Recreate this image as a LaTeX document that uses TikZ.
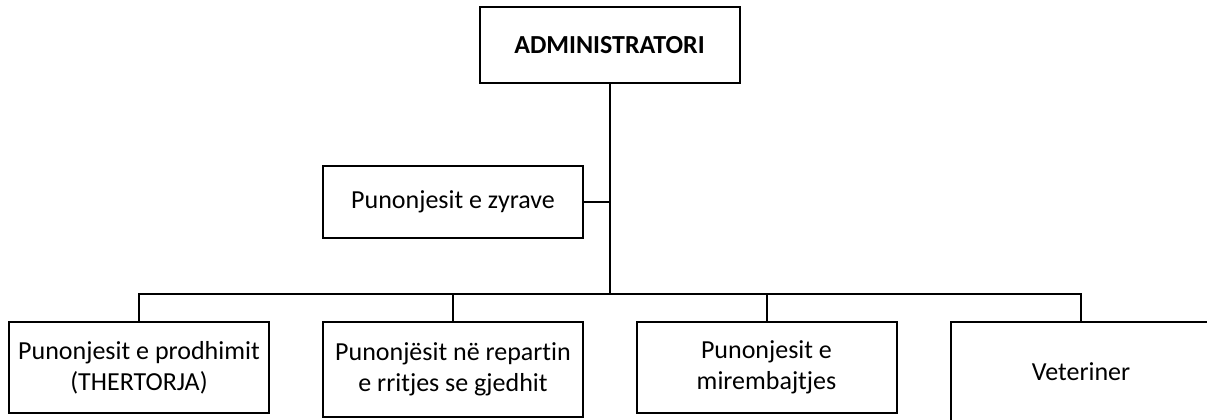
\documentclass[tikz,border=0pt]{standalone}
\usepackage{fontspec}
\setmainfont{Carlito}[Ligatures=NoCommon]
\tikzset{
    box/.style={draw, line width=1.5pt, minimum width=195pt, inner xsep=2pt,
        align=center, font=\fontsize{19.5}{23}\selectfont},
    conn/.style={-, line width=1.5pt}
}
\begin{document}
\begin{tikzpicture}[x=0.75pt, y=-0.75pt]
            \useasboundingbox (0,0) rectangle (1207,420);
            \clip (0,0) rectangle (1207,420);

            %Administratori
            \node[box, minimum height=57pt] (adm) at (609.5,45) {\textbf{ADMINISTRATORI}};

            %Zyra
            \node[box, minimum height=54pt] (zyr) at (453,202) {Punonjesit e zyrave};

            %Repartet
            \node[box, minimum height=68.25pt] (prod) at (139,367.5) {Punonjesit e prodhimit\\(THERTORJA)};
            \node[box, minimum height=71.25pt] (rrit) at (453,369.5) {Punonjësit në repartin\\e rritjes se gjedhit};
            \node[box, minimum height=68.25pt] (mire) at (766.5,367.5) {Punonjesit e\\mirembajtjes};
            \node[box, minimum height=75pt] (vet) at (1081,372) {Veteriner};

            \coordinate (bar) at (609.5,294);

            %Lidhjet
            \draw[conn] (adm.south) -- (bar);
            \draw[conn] (zyr.east) -- (zyr.east -| adm.south);
            \draw[conn] (prod.north) |- (bar) -| (vet.north);
            \draw[conn] (rrit.north) -- (rrit.north |- bar);
            \draw[conn] (mire.north) -- (mire.north |- bar);
        \end{tikzpicture}
\end{document}
